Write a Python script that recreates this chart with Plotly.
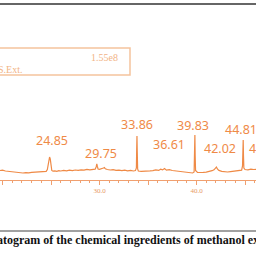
import plotly.graph_objects as go

# Retention time (min) and relative intensity
rt = [19.74, 20.0, 20.3, 20.6, 20.9, 21.2, 21.5, 21.8, 22.1, 22.4, 22.7, 23.0, 23.3, 23.6,
      23.9, 24.1, 24.3, 24.5, 24.62, 24.72, 24.8, 24.85, 24.92, 25.0, 25.08, 25.2, 25.4,
      25.6, 25.8, 26.0, 26.3, 26.6, 26.9, 27.2, 27.5, 27.8, 28.1, 28.4, 28.7, 29.0, 29.3,
      29.55, 29.65, 29.72, 29.78, 29.85, 30.0, 30.2, 30.4, 30.5, 30.6, 30.8, 31.1, 31.4,
      31.7, 32.0, 32.3, 32.6, 32.9, 33.2, 33.5, 33.7, 33.8, 33.83, 33.86, 33.89, 33.93,
      34.0, 34.3, 34.6, 34.9, 35.2, 35.5, 35.8, 36.1, 36.3, 36.5, 36.7, 36.9, 37.2, 37.5,
      37.8, 38.1, 38.4, 38.7, 39.0, 39.3, 39.6, 39.75, 39.8, 39.83, 39.86, 39.9, 40.1,
      40.4, 40.7, 41.0, 41.3, 41.6, 41.8, 41.95, 42.05, 42.15, 42.3, 42.6, 42.9, 43.2,
      43.5, 43.8, 44.1, 44.4, 44.65, 44.74, 44.78, 44.81, 44.84, 44.88, 45.0, 45.3, 45.6,
      45.9, 46.2, 46.4]
intensity = [9.5, 9.8, 9.0, 8.6, 8.0, 7.6, 7.8, 7.2, 7.0, 7.4, 7.1, 7.6, 7.9, 7.5,
             8.4, 8.0, 8.2, 8.6, 10.5, 16, 22, 23, 21, 14, 9.5, 8.8, 9.2,
             8.7, 9.4, 9.0, 9.6, 9.1, 9.8, 9.4, 10.0, 9.6, 10.2, 9.8, 10.6, 10.1, 10.4,
             10.8, 13, 16, 13.5, 11, 10.6, 11.0, 12.0, 12.4, 11.2, 10.5, 10.0, 10.3,
             9.7, 9.9, 9.4, 9.8, 9.2, 9.6, 9.0, 9.4, 12, 30, 44, 28, 11,
             9.0, 8.6, 9.0, 8.7, 9.1, 9.4, 10.2, 9.6, 10.8, 10.1, 11.4, 9.9, 10.3, 9.5,
             9.1, 8.6, 8.0, 7.5, 7.1, 6.8, 7.0, 8, 26, 45, 24, 9.5, 7.5,
             7.2, 7.6, 7.9, 8.4, 9.3, 10.2, 11.6, 13, 11, 9.6, 8.7, 8.2, 8.0,
             8.4, 8.9, 9.4, 9.6, 9.9, 14, 28, 40, 24, 12, 10.5, 10.2, 10.8,
             10.5, 11.0, 10.7]

peak_labels = ["24.85", "29.75", "33.86", "36.61", "39.83", "42.02", "44.81", "46.57"]
label_x = [25.05, 30.2, 33.9, 37.2, 39.65, 42.4, 44.6, 45.2]
label_y = [40, 27, 56, 36, 55, 32, 51, 32]
label_anchor = ["center", "center", "center", "center", "center", "center", "center", "left"]

tick_vals = [20, 25, 30, 35, 40, 45]
tick_text = ["20.0", "", "30.0", "", "40.0", ""]

ORANGE = "#EF8A46"
LIGHT = "#F5C39D"

fig = go.Figure()
fig.add_trace(go.Scatter(x=rt, y=intensity, mode="lines",
                         line=dict(color=ORANGE, width=1.2), hoverinfo="skip"))

for t, x, y, a in zip(peak_labels, label_x, label_y, label_anchor):
    fig.add_annotation(x=x, y=y, text=t, showarrow=False, xref="x", yref="y",
                       xanchor=a, yanchor="middle",
                       font=dict(family="Noto Sans", size=12.5, color=ORANGE))

def py(px):
    return 1 - px / 256

shapes = [
    dict(type="line", xref="paper", yref="paper", x0=0, x1=1, y0=py(4), y1=py(4),
         line=dict(color="#333333", width=1.5)),
    dict(type="line", xref="paper", yref="paper", x0=0, x1=1, y0=py(231), y1=py(231),
         line=dict(color="#444444", width=1.2)),
    dict(type="rect", xref="paper", yref="paper", x0=-0.05, x1=130 / 256,
         y0=py(75), y1=py(48), line=dict(color=LIGHT, width=1.5)),
]

fig.add_annotation(x=120 / 256, y=py(57), xref="paper", yref="paper", xanchor="right",
                   yanchor="middle", text="1.55e8", showarrow=False,
                   font=dict(family="Liberation Serif", size=10, color="#F2B486"))
fig.add_annotation(x=-4 / 256, y=py(69), xref="paper", yref="paper", xanchor="left",
                   yanchor="middle", text="S.Ext.", showarrow=False,
                   font=dict(family="Liberation Serif", size=10, color="#F2B486"))
fig.add_annotation(x=-5 / 256, y=py(240), xref="paper", yref="paper", xanchor="left",
                   yanchor="middle",
                   text="<b>atogram of the chemical ingredients of methanol extract</b>",
                   showarrow=False,
                   font=dict(family="Liberation Serif", size=12, color="#111111"))

fig.update_layout(
    width=256, height=256, margin=dict(l=0, r=0, t=0, b=0),
    paper_bgcolor="white", plot_bgcolor="white", showlegend=False,
    shapes=shapes,
    xaxis=dict(range=[19.74, 46.13], anchor="free", position=py(180), showgrid=False,
               zeroline=False, showline=True, linecolor="#F0A070", linewidth=1,
               tickmode="array", tickvals=tick_vals, ticktext=tick_text,
               ticks="outside", ticklen=4, tickcolor="#F0A070",
               minor=dict(dtick=1, ticks="outside", ticklen=2, tickcolor="#F0A070"),
               tickfont=dict(family="Liberation Serif", size=7, color="#E89A66")),
    yaxis=dict(range=[-76, 180], domain=[0, 1], visible=False, fixedrange=True),
)

fig.write_html("out.html")
